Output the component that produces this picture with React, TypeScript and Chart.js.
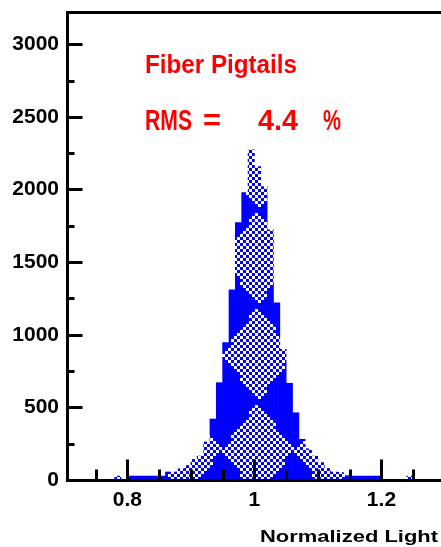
import React, { useEffect, useRef } from 'react';
import { Chart, registerables } from 'chart.js';

Chart.register(...registerables);

// ---- data ----
const binCenters = [
  0.785, 0.795, 0.805, 0.815, 0.825, 0.835, 0.845, 0.855, 0.865, 0.875,
  0.885, 0.895, 0.905, 0.915, 0.925, 0.935, 0.945, 0.955, 0.965, 0.975,
  0.985, 0.995, 1.005, 1.015, 1.025, 1.035, 1.045, 1.055, 1.065, 1.075,
  1.085, 1.095, 1.105, 1.115, 1.125, 1.135, 1.145, 1.155, 1.165, 1.175,
  1.185, 1.195, 1.205, 1.215, 1.225, 1.235, 1.245,
];
const counts = [
  27, 0, 27, 27, 27, 27, 27, 27, 55, 55,
  78, 100, 142, 165, 262, 420, 670, 946, 1309, 1772,
  1979, 2273, 2158, 2020, 1722, 1220, 900, 666, 463, 280,
  215, 165, 120, 80, 55, 53, 30, 27, 27, 27,
  27, 27, 0, 0, 0, 0, 27,
];

const xMajorTicks = [0.8, 1.0, 1.2];
const xTickLabels = ['0.8', '1', '1.2'];
const xMinorTicks = [0.75, 0.85, 0.9, 0.95, 1.05, 1.1, 1.15, 1.25];
const yMajorTicks = [0, 500, 1000, 1500, 2000, 2500, 3000];
const yTickLabels = ['0', '500', '1000', '1500', '2000', '2500', '3000'];
const yMinorTicks = [250, 750, 1250, 1750, 2250, 2750];

const xAxisTitle = 'Normalized Light';
const noteTitle = 'Fiber Pigtails';
const noteRms = ['RMS', '=', '4.4', '%'];

// ---- styles ----
const BLUE = '#0000ff';
const RED = '#ff0000';
const FONT = "'Liberation Sans', Arial, sans-serif";
const X_MIN = 0.705;
const X_MAX = 1.3;
const Y_MAX = 3222;
const PATTERN_ANCHOR_X = 1.006; // centre of one checker diamond (data units)
const PATTERN_ANCHOR_Y = 207;

function makeTile(): HTMLCanvasElement {
  const W = 72, H = 96, cell = 3;
  const tile = document.createElement('canvas');
  tile.width = W;
  tile.height = H;
  const c = tile.getContext('2d')!;
  c.fillStyle = BLUE;
  c.fillRect(0, 0, W, H);
  c.fillStyle = '#ffffff';
  for (let y = 0; y < H; y += cell) {
    for (let x = 0; x < W; x += cell) {
      if (((x / cell) + (y / cell)) % 2 !== 0) continue;
      const cx = x + cell / 2, cy = y + cell / 2;
      if (Math.abs(cx - W / 2) / (W / 2) + Math.abs(cy - H / 2) / (H / 2) <= 1) {
        c.fillRect(x, y, cell, cell);
      }
    }
  }
  return tile;
}

function drawFitted(ctx: CanvasRenderingContext2D, text: string, x: number, baseline: number, width: number, font: string) {
  ctx.font = font;
  const w = ctx.measureText(text).width;
  ctx.save();
  ctx.translate(x, baseline);
  ctx.scale(width / w, 1);
  ctx.fillText(text, 0, 0);
  ctx.restore();
}

export default function App() {
  const ref = useRef<HTMLCanvasElement | null>(null);

  useEffect(() => {
    const canvas = ref.current!;
    const ctx = canvas.getContext('2d')!;
    const pattern = ctx.createPattern(makeTile(), 'repeat')!;

    const decorPlugin = {
      id: 'decor',
      beforeDatasetsDraw(chart: any) {
        const { x, y } = chart.scales;
        const px = Math.round(x.getPixelForValue(PATTERN_ANCHOR_X)) - 36;
        const py = Math.round(y.getPixelForValue(PATTERN_ANCHOR_Y)) - 48;
        pattern.setTransform(new DOMMatrix([1, 0, 0, 1, px, py]));
      },
      afterDatasetsDraw(chart: any) {
        const c: CanvasRenderingContext2D = chart.ctx;
        const a = chart.chartArea;
        const { x, y } = chart.scales;
        c.save();
        c.strokeStyle = '#000';
        c.lineWidth = 3;
        c.lineCap = 'butt';
        c.beginPath();
        const L = a.left + 0.5, T = a.top + 0.5, B = a.bottom + 0.5;
        c.moveTo(L - 1.5, T); c.lineTo(chart.width, T);
        c.moveTo(L, T - 1.5); c.lineTo(L, B + 1.5);
        c.moveTo(L - 1.5, B); c.lineTo(chart.width, B);
        yMajorTicks.forEach((v) => {
          const p = Math.round(y.getPixelForValue(v)) + 0.5;
          c.moveTo(L, p); c.lineTo(L + 15, p);
        });
        yMinorTicks.forEach((v) => {
          const p = Math.round(y.getPixelForValue(v)) + 0.5;
          c.moveTo(L, p); c.lineTo(L + 7, p);
        });
        xMajorTicks.forEach((v) => {
          const p = Math.round(x.getPixelForValue(v)) + 0.5;
          c.moveTo(p, B); c.lineTo(p, B - 21);
        });
        xMinorTicks.forEach((v) => {
          const p = Math.round(x.getPixelForValue(v)) + 0.5;
          c.moveTo(p, B); c.lineTo(p, B - 11);
        });
        c.stroke();

        c.textBaseline = 'alphabetic';
        c.textAlign = 'left';
        // axis title
        c.fillStyle = '#000';
        drawFitted(c, xAxisTitle, 260, 542, 178, `bold 17px ${FONT}`);
        // red annotation
        c.fillStyle = RED;
        drawFitted(c, noteTitle, 145, 73, 152, `bold 25px ${FONT}`);
        drawFitted(c, noteRms[0], 145, 130, 47, `bold 30px ${FONT}`);
        drawFitted(c, noteRms[1], 203, 130, 18, `bold 30px ${FONT}`);
        drawFitted(c, noteRms[2], 258, 130, 40, `bold 30px ${FONT}`);
        drawFitted(c, noteRms[3], 323, 130, 18, `bold 30px ${FONT}`);
        c.restore();
      },
    };

    const chart = new Chart(canvas, {
      type: 'bar',
      data: {
        datasets: [
          {
            data: binCenters.map((v, i) => ({ x: v, y: counts[i] })),
            backgroundColor: pattern as any,
            borderWidth: 0,
            barPercentage: 1,
            categoryPercentage: 1,
            grouped: false,
          } as any,
        ],
      },
      options: {
        responsive: false,
        animation: false,
        devicePixelRatio: 1,
        events: [],
        layout: { padding: { left: 0, top: 12, right: 25, bottom: 0 } },
        plugins: { legend: { display: false }, tooltip: { enabled: false } },
        scales: {
          x: {
            type: 'linear',
            min: X_MIN,
            max: X_MAX,
            offset: false,
            grid: { display: false, drawTicks: false, offset: false },
            border: { display: false },
            afterBuildTicks: (s: any) => {
              s.ticks = xMajorTicks.map((v) => ({ value: v }));
            },
            afterFit: (s: any) => {
              s.height = 67;
              s.paddingLeft = 0;
              s.paddingRight = 0;
            },
            ticks: {
              autoSkip: false,
              maxRotation: 0,
              padding: 8,
              color: '#000',
              font: { family: FONT, size: 21, weight: 'bold' },
              callback: (_v: any, i: number) => xTickLabels[i],
            },
          },
          y: {
            type: 'linear',
            min: 0,
            max: Y_MAX,
            grid: { display: false, drawTicks: false },
            border: { display: false },
            afterBuildTicks: (s: any) => {
              s.ticks = yMajorTicks.map((v) => ({ value: v }));
            },
            afterFit: (s: any) => {
              s.width = 67;
              s.paddingTop = 0;
              s.paddingBottom = 0;
            },
            ticks: {
              autoSkip: false,
              padding: 8,
              color: '#000',
              font: { family: FONT, size: 21, weight: 'bold' },
              callback: (_v: any, i: number) => yTickLabels[i],
            },
          },
        },
      } as any,
      plugins: [decorPlugin],
    });
    return () => chart.destroy();
  }, []);

  return (
    <div
      style={{
        position: 'absolute',
        left: 0,
        top: 0,
        width: 441,
        height: 547,
        overflow: 'hidden',
        background: '#fff',
      }}
    >
      <canvas ref={ref} width={470} height={547} style={{ display: 'block' }} />
    </div>
  );
}
